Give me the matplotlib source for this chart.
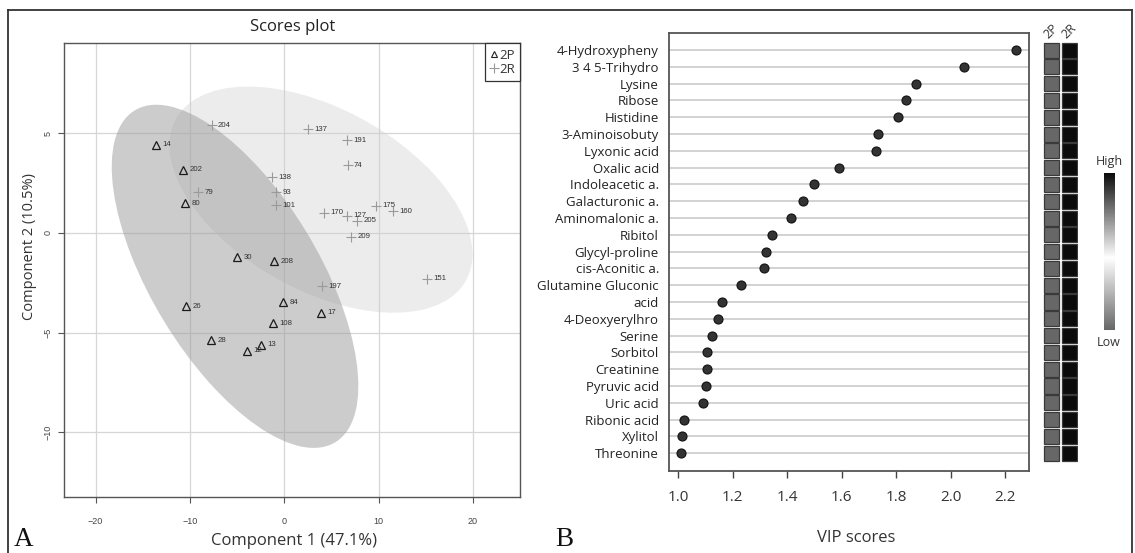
import numpy as np
import matplotlib
matplotlib.use('Agg')
import matplotlib.pyplot as plt
from matplotlib.patches import Ellipse, Rectangle
from matplotlib.lines import Line2D
from matplotlib.colors import LinearSegmentedColormap, Normalize
import matplotlib.cm as cm

# ---------------- data: scores plot ----------------
p_ids = ['14', '202', '80', '30', '208', '84', '17', '108', '26', '28', '13', '12']
p_x = [-13.55, -10.69, -10.48, -4.96, -1.07, -0.08, 3.94, -1.15, -10.40, -7.72, -2.42, -3.93]
p_y = [4.43, 3.17, 1.49, -1.22, -1.41, -3.47, -4.01, -4.53, -3.67, -5.38, -5.60, -5.92]

r_ids = ['204', '137', '138', '93', '101', '79', '191', '74', '170', '127', '205',
         '175', '160', '209', '197', '151']
r_x = [-7.68, 2.57, -1.31, -0.86, -0.86, -9.10, 6.70, 6.74, 4.26, 6.64, 7.76,
       9.71, 11.55, 7.13, 3.99, 15.19]
r_y = [5.40, 5.20, 2.80, 2.05, 1.39, 2.03, 4.65, 3.39, 1.01, 0.86, 0.62,
       1.36, 1.09, -0.18, -2.67, -2.31]

x_ticks = [-20, -10, 0, 10, 20]
y_ticks = [-10, -5, 0, 5]

# ---------------- data: VIP scores ----------------
vip_names = ['4-Hydroxypheny', '3 4 5-Trihydro', 'Lysine', 'Ribose', 'Histidine',
             '3-Aminoisobuty', 'Lyxonic acid', 'Oxalic acid', 'Indoleacetic a.',
             'Galacturonic a.', 'Aminomalonic a.', 'Ribitol', 'Glycyl-proline',
             'cis-Aconitic a.', 'Glutamine Gluconic', 'acid', '4-Deoxyerylhro',
             'Serine', 'Sorbitol', 'Creatinine', 'Pyruvic acid', 'Uric acid',
             'Ribonic acid', 'Xylitol', 'Threonine']
vip_vals = [2.239, 2.048, 1.875, 1.836, 1.808, 1.733, 1.728, 1.589, 1.498,
            1.459, 1.416, 1.345, 1.324, 1.317, 1.230, 1.160, 1.146,
            1.125, 1.106, 1.105, 1.101, 1.091, 1.021, 1.014, 1.012]
vip_ticks = [1.0, 1.2, 1.4, 1.6, 1.8, 2.0, 2.2]

heat_groups = ['2P', '2R']
heat_2P = [0.0, 0.0, 0.0, 0.0, 0.0, 0.0, 0.0, 0.0, 0.0, 0.0, 0.0, 0.0, 0.0,
           0.0, 0.0, 0.0, 0.0, 0.0, 0.0, 0.0, 0.0, 0.0, 0.0, 0.0, 0.0]
heat_2R = [1.0, 1.0, 1.0, 1.0, 1.0, 1.0, 1.0, 1.0, 1.0, 1.0, 1.0, 1.0, 1.0,
           1.0, 1.0, 1.0, 1.0, 1.0, 1.0, 1.0, 1.0, 1.0, 1.0, 1.0, 1.0]

# ---------------- figure ----------------
W, H = 1135, 553
fig = plt.figure(figsize=(W / 100, H / 100), dpi=100)


def fx(px):
    return px / W


def fy(py):
    return 1 - py / H


SANS = ['Open Sans', 'DejaVu Sans']
ARIAL = ['Liberation Sans', 'DejaVu Sans']
SERIF = ['Liberation Serif', 'DejaVu Serif']

# outer frame
frame_kw = dict(transform=fig.transFigure, color='#333333', lw=1.3)
fig.add_artist(Line2D([fx(8), fx(8)], [fy(10), 0], **frame_kw))
fig.add_artist(Line2D([fx(8), fx(1132)], [fy(10), fy(10)], **frame_kw))
fig.add_artist(Line2D([fx(1132), fx(1132)], [fy(10), 0], **frame_kw))

# ---------------- left: scores plot ----------------
ax1 = fig.add_axes([fx(64), fy(497.3), fx(520 - 64), (497.3 - 43.3) / H])
ax1.set_xlim(-23.34, 25.0)
ax1.set_ylim(-13.26, 9.51)


def conf_ellipse(x, y, **kw):
    x = np.asarray(x)
    y = np.asarray(y)
    cov = np.cov(x, y)
    vals, vecs = np.linalg.eigh(cov)
    order = vals.argsort()[::-1]
    vals = vals[order]
    vecs = vecs[:, order]
    ang = np.degrees(np.arctan2(vecs[1, 0], vecs[0, 0]))
    k = np.sqrt(5.991)
    return Ellipse((x.mean(), y.mean()), 2 * k * np.sqrt(vals[0]),
                   2 * k * np.sqrt(vals[1]), angle=ang, **kw)


ax1.add_patch(conf_ellipse(r_x, r_y, facecolor='#cdcdcd', alpha=0.36,
                           edgecolor='none', zorder=1))
ax1.add_patch(conf_ellipse(p_x, p_y, facecolor='#9b9b9b', alpha=0.5,
                           edgecolor='none', zorder=2))

ax1.set_xticks(x_ticks)
ax1.set_yticks(y_ticks)
ax1.grid(True, color='#d6d6d6', lw=0.9, zorder=0)
ax1.set_axisbelow(True)

ax1.plot(r_x, r_y, ls='none', marker='+', ms=6.5, mew=0.8, color='#9a9a9a', zorder=3)
ax1.plot(p_x, p_y, ls='none', marker='^', ms=5.3, mew=0.9, mfc='none',
         mec='#1a1a1a', zorder=3)
for i, t in enumerate(r_ids):
    ax1.annotate(t, (r_x[i], r_y[i]), xytext=(4.5, 0), textcoords='offset points',
                 va='center', ha='left', fontsize=5.6, color='#333333',
                 family=ARIAL, zorder=4)
for i, t in enumerate(p_ids):
    ax1.annotate(t, (p_x[i], p_y[i]), xytext=(4.5, 0), textcoords='offset points',
                 va='center', ha='left', fontsize=5.6, color='#333333',
                 family=ARIAL, zorder=4)

for s in ax1.spines.values():
    s.set_color('#555555')
    s.set_linewidth(1.0)
ax1.tick_params(axis='both', length=4, width=0.8, color='#555555',
                labelsize=6.5, labelcolor='#444444')
ax1.tick_params(axis='x', pad=10)
ax1.tick_params(axis='y', pad=4)
for lab in ax1.get_xticklabels() + ax1.get_yticklabels():
    lab.set_family(ARIAL)
for lab in ax1.get_yticklabels():
    lab.set_rotation(90)
    lab.set_va('center')

leg = ax1.legend(handles=[
    Line2D([], [], ls='none', marker='^', ms=4.5, mfc='none', mec='#222222', mew=0.8, label='2P'),
    Line2D([], [], ls='none', marker='+', ms=7, color='#999999', mew=0.8, label='2R')],
    loc='upper right', borderaxespad=0, fancybox=False, edgecolor='#333333',
    framealpha=1, handlelength=0.55, handletextpad=0.1, borderpad=0.4,
    labelspacing=0.1, prop={'family': SANS, 'size': 9.5})
leg.get_frame().set_linewidth(0.9)
for t in leg.get_texts():
    t.set_color('#333333')

fig.text(fx(293), fy(27.3), 'Scores plot', ha='center', va='center',
         fontsize=12, family=SANS, color='#222222')
fig.text(fx(294), fy(541), 'Component 1 (47.1%)', ha='center', va='center',
         fontsize=12, family=SANS, color='#333333')
fig.text(fx(30), fy(247), 'Component 2 (10.5%)', ha='center', va='center',
         rotation=90, fontsize=10.5, family=SANS, color='#333333')

fig.text(fx(14), fy(552), 'A', ha='left', va='bottom', fontsize=19.5,
         family=SERIF, color='#111111')
fig.text(fx(555), fy(552), 'B', ha='left', va='bottom', fontsize=19.5,
         family=SERIF, color='#111111')

# ---------------- right: VIP scores ----------------
n = len(vip_names)
idx = np.arange(n)
ax2 = fig.add_axes([fx(668.6), fy(470.7), fx(1029 - 668.6), (470.7 - 33.3) / H])
ax2.set_xlim(0.965, 2.288)
ax2.set_ylim(n - 1 + 1.04, -1.0)
for i in idx:
    ax2.axhline(i, color='#d2d2d2', lw=1.4, zorder=1)
ax2.plot(vip_vals, idx, ls='none', marker='o', ms=6.5, mfc='#333333',
         mec='#111111', mew=0.8, zorder=3)
ax2.set_yticks(idx)
ax2.set_yticklabels(vip_names, family=SANS, fontsize=9.5, color='#222222')
ax2.set_xticks(vip_ticks)
ax2.set_xticklabels(['%.1f' % v for v in vip_ticks], family=SANS, fontsize=11,
                    color='#333333')
ax2.tick_params(axis='y', length=0, pad=7)
ax2.tick_params(axis='x', length=5, width=1.0, color='#444444', pad=9)
for s in ax2.spines.values():
    s.set_color('#555555')
    s.set_linewidth(1.3)
fig.text(fx(856), fy(538), 'VIP scores', ha='center', va='center', fontsize=12,
         family=SANS, color='#333333')

# ---------------- heatmap ----------------
cmap = LinearSegmentedColormap.from_list(
    'hl', [(0.0, '#676767'), (0.46, '#ffffff'), (1.0, '#0b0b0b')])
axh = fig.add_axes([fx(1043), fy(470.7), fx(1078 - 1043), (470.7 - 33.3) / H])
axh.set_xlim(-0.5, 1.5)
axh.set_ylim(n - 1 + 1.04, -1.0)
axh.axis('off')
for j, col in enumerate([heat_2P, heat_2R]):
    for i, v in enumerate(col):
        axh.add_patch(Rectangle((j - 0.44, i - 0.45), 0.88, 0.9,
                                facecolor=cmap(v), edgecolor='#3a3a3a', lw=0.9))
fig.text(fx(1051), fy(31), heat_groups[0], rotation=45, ha='center', va='center',
         fontsize=9, family=SANS, color='#333333')
fig.text(fx(1069), fy(31), heat_groups[1], rotation=45, ha='center', va='center',
         fontsize=9, family=SANS, color='#333333')

# colour key
cax = fig.add_axes([fx(1104), fy(330), fx(11), (330 - 173) / H])
sm = cm.ScalarMappable(norm=Normalize(0, 1), cmap=cmap)
cb = fig.colorbar(sm, cax=cax)
cb.outline.set_visible(False)
cb.set_ticks([])
fig.text(fx(1109), fy(161.5), 'High', ha='center', va='center', fontsize=9,
         family=SANS, color='#333333')
fig.text(fx(1109), fy(342.5), 'Low', ha='center', va='center', fontsize=9,
         family=SANS, color='#333333')

fig.savefig('out.png', dpi=100)
